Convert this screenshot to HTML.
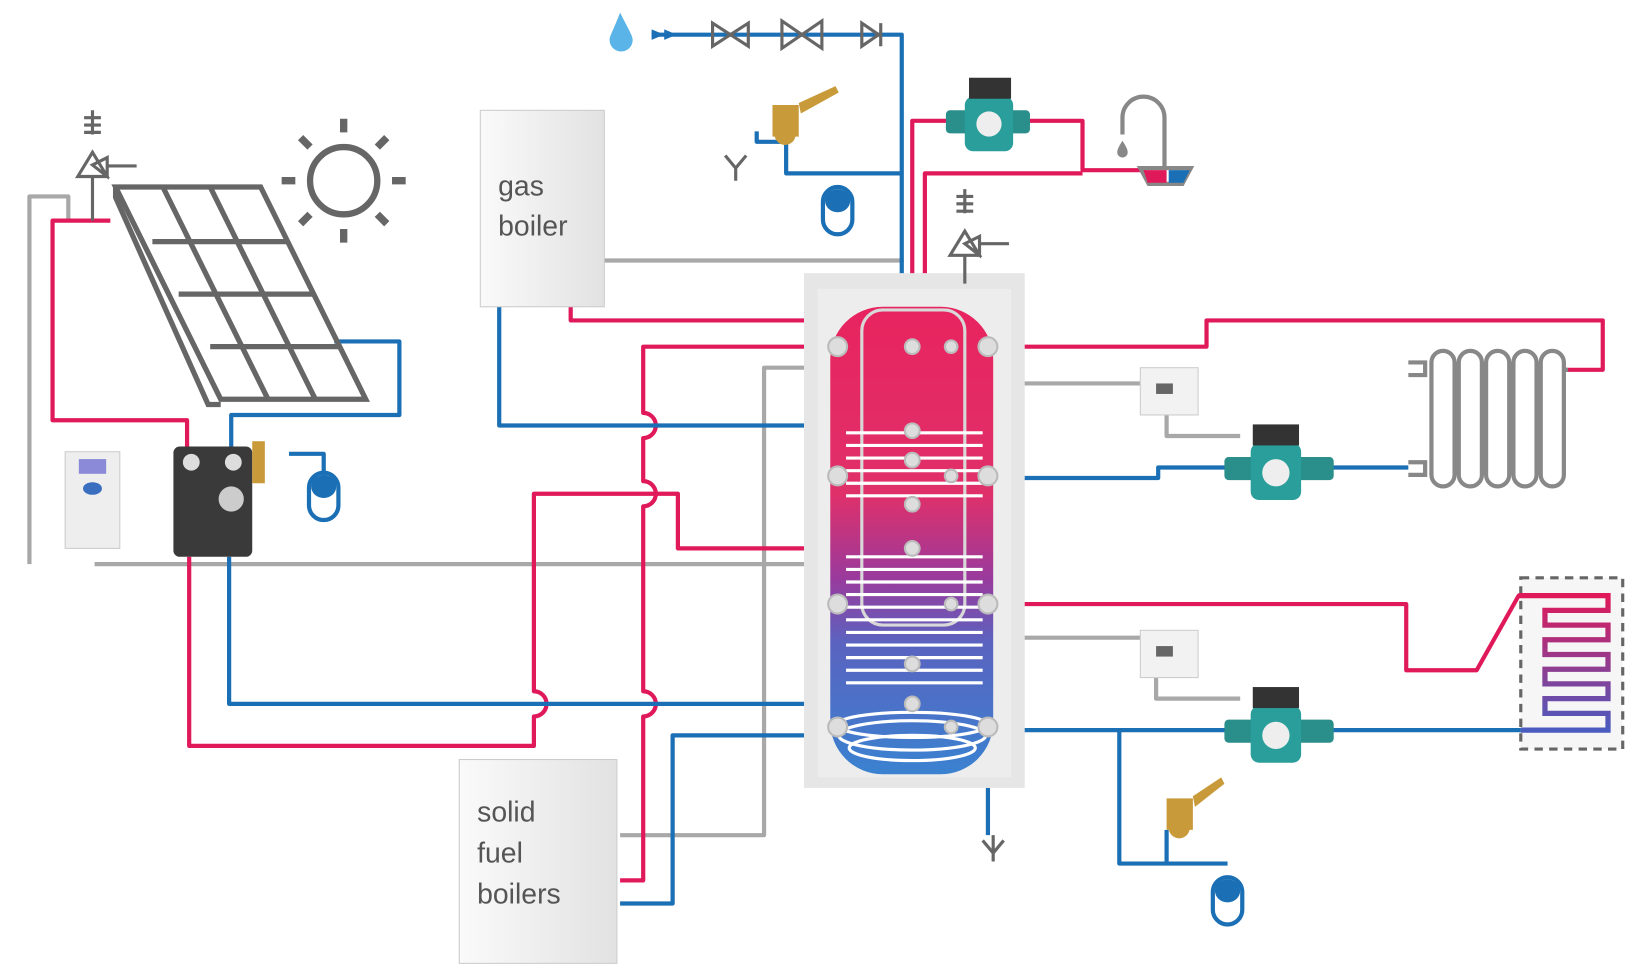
<!DOCTYPE html>
<html><head><meta charset="utf-8"><style>
html,body{margin:0;padding:0;background:#fff;width:1649px;height:977px;overflow:hidden}
svg{display:block}
text{font-family:"Liberation Sans",sans-serif;fill:#555}
</style></head><body>
<svg width="1649" height="977" viewBox="0 0 1569 930" preserveAspectRatio="none" xmlns="http://www.w3.org/2000/svg">
<defs>
<linearGradient id="tk" x1="0" y1="0" x2="0" y2="1">
<stop offset="0" stop-color="#e8245f"/><stop offset="0.4" stop-color="#e0306a"/>
<stop offset="0.58" stop-color="#9a3a9c"/><stop offset="0.72" stop-color="#5a63c0"/><stop offset="1" stop-color="#3a82d0"/>
</linearGradient>
<linearGradient id="bx" x1="0" y1="0" x2="1" y2="0">
<stop offset="0" stop-color="#fafafa"/><stop offset="1" stop-color="#e2e2e2"/>
</linearGradient>
<linearGradient id="fl" x1="0" y1="0" x2="0" y2="1">
<stop offset="0" stop-color="#e0195a"/><stop offset="1" stop-color="#4a5cc0"/>
</linearGradient>
</defs>
<g fill="none" stroke-width="4" stroke-linejoin="round">
<g stroke="#a8a8a8">
<path d="M28,537 V187 H65 V210"/>
<path d="M90,537 H865"/>
<path d="M575,248 H860"/>
<path d="M590,795 H727 V350 H870"/>
<path d="M905,330 L945,365 H1085"/>
<path d="M1110,395 V415 H1180"/>
<path d="M905,575 L945,607 H1085"/>
<path d="M1100,645 V665 H1180"/>
</g>
<g stroke="#e0195a">
<path d="M105,210 H50 V400 H178 V425"/>
<path d="M180,530 V710 H508 V682 A12,12 0 0 0 508,658 V470 H645 V522 H868"/>
<path d="M543,292 V305 H800"/>
<path d="M590,838 H612 V682 A12,12 0 0 0 612,658 V482 A12,12 0 0 0 612,458 V417 A12,12 0 0 0 612,393 V330 H797"/>
<path d="M868,290 V115 H905"/>
<path d="M975,115 H1030 V162 H1090"/>
<path d="M880,290 V165 H1030"/>
<path d="M940,330 H1148 V305 H1525 V352 H1490"/>
<path d="M940,575 H1338 V638 H1405 L1445,567 H1530"/>
</g>
<g stroke="#1a6fb5">
<path d="M620,33 H858 V290"/>
<path d="M720,125 V135 H748 V165 H858"/>
<path d="M318,325 H380 V395 H220 V425"/>
<path d="M275,432 H308 V450"/>
<path d="M218,530 V670 H858"/>
<path d="M475,292 V405 H805"/>
<path d="M590,860 H640 V700 H797"/>
<path d="M940,455 H1102 V445 H1340"/>
<path d="M940,695 H1530"/>
<path d="M1065,695 V822 H1168"/>
<path d="M1110,790 V822"/>
<path d="M940,750 V795"/>
</g>
</g>
<!-- tank -->
<rect x="765" y="260" width="210" height="490" fill="#e6e6e6"/>
<rect x="778" y="275" width="184" height="465" fill="#ededed"/>
<rect x="790" y="292" width="155" height="445" rx="50" fill="url(#tk)"/>
<rect x="820" y="295" width="98" height="300" rx="20" fill="none" stroke="#d8d8d8" stroke-width="3"/>
<g fill="none" stroke="#fff" stroke-width="3">
<path d="M805,412 H935 M805,424 H935 M805,436 H935 M805,448 H935 M805,460 H935 M805,472 H935"/>
<path d="M805,530 H935 M805,542 H935 M805,554 H935 M805,566 H935 M805,578 H935 M805,590 H935 M805,602 H935 M805,614 H935 M805,626 H935 M805,638 H935 M805,650 H935"/>
<ellipse cx="868" cy="690" rx="72" ry="12"/><ellipse cx="868" cy="700" rx="70" ry="14"/><ellipse cx="868" cy="712" rx="60" ry="12"/>
</g>
<g fill="#ddd" stroke="#bbb" stroke-width="2">
<circle cx="797" cy="330" r="9"/><circle cx="797" cy="453" r="9"/><circle cx="797" cy="575" r="9"/><circle cx="797" cy="692" r="9"/>
<circle cx="940" cy="330" r="9"/><circle cx="940" cy="453" r="9"/><circle cx="940" cy="575" r="9"/><circle cx="940" cy="692" r="9"/>
<circle cx="868" cy="330" r="7"/><circle cx="868" cy="410" r="7"/><circle cx="868" cy="438" r="7"/><circle cx="868" cy="480" r="7"/><circle cx="868" cy="522" r="7"/><circle cx="868" cy="632" r="7"/><circle cx="868" cy="670" r="7"/><circle cx="905" cy="330" r="6"/><circle cx="905" cy="453" r="6"/><circle cx="905" cy="575" r="6"/><circle cx="905" cy="692" r="6"/>
</g>
<rect x="457" y="105" width="118" height="187" fill="url(#bx)" stroke="#ccc"/>
<text x="474" y="186" font-size="27">gas</text>
<text x="474" y="224" font-size="27">boiler</text>
<rect x="437" y="723" width="150" height="194" fill="url(#bx)" stroke="#ccc"/>
<text x="454" y="782" font-size="27">solid</text>
<text x="454" y="821" font-size="27">fuel</text>
<text x="454" y="860" font-size="27">boilers</text>
<g fill="none" stroke="#666" stroke-width="5">
<path d="M110,178 H248 L348,380 H210 Z"/>
<path d="M110,178 V188 L198,385 H210"/>
<path d="M155,178 L255,380 M200,178 L300,380"/>
<path d="M145,230 H273 M170,280 H298 M200,330 H323"/>
<circle cx="327" cy="172" r="32" stroke-width="6"/>
<path d="M327,113 v13 M327,218 v13 M268,172 h13 M373,172 h13 M286,131 l9,9 M359,204 l9,9 M368,131 l-9,9 M295,204 l-9,9" stroke-width="7"/>
</g>
<g fill="none" stroke="#666" stroke-width="3">
<path d="M88,105 V128 M80,112 h16 M80,119 h16 M80,126 h16 M88,168 V210 M74,168 h28 L88,145 Z M102,150 V168 L88,157 Z M102,158 h28"/>
<path d="M918,180 V203 M910,187 h16 M910,194 h16 M910,201 h16 M918,243 V270 M904,243 h28 L918,220 Z M932,225 V243 L918,232 Z M932,232 h28"/>
<path d="M700,160 V172 M690,148 L700,160 L710,148"/>
<path d="M945,795 V820 M935,800 L945,812 L955,800"/>
</g>
<path d="M590,12 C598,28 602,34 602,38 A11,11 0 0 1 580,38 C580,34 584,28 590,12 Z" fill="#5ab4e8"/>
<g fill="none" stroke="#666" stroke-width="3">
<path d="M678,22 V44 L712,22 V44 Z"/><path d="M744,20 V46 L782,20 V46 Z"/><path d="M820,22 V44 L836,33 Z M838,22 V44"/>
</g>
<path d="M620,28 L632,33 L620,38 Z M632,28 L644,33 L632,38Z" fill="#1a6fb5"/>
<g fill="#fff" stroke="#1a6fb5" stroke-width="4">
<rect x="783" y="178" width="28" height="45" rx="14"/><rect x="294" y="450" width="28" height="45" rx="14"/><rect x="1154" y="835" width="28" height="45" rx="14"/>
</g>
<g fill="#1a6fb5"><rect x="785" y="180" width="24" height="22" rx="12"/><rect x="296" y="452" width="24" height="22" rx="12"/><rect x="1156" y="837" width="24" height="22" rx="12"/></g>
<g fill="#c89a3a"><path d="M735,100 h25 v30 h-25z"/><path d="M760,98 L795,82 l3,6 L762,108z"/><circle cx="747" cy="128" r="10"/>
<path d="M1110,760 h25 v30 h-25z"/><path d="M1135,758 L1162,740 l3,6 L1137,768z"/><circle cx="1122" cy="788" r="10"/></g>
<g>
<rect x="900" y="105" width="80" height="22" rx="4" fill="#2a8e8a"/><rect x="918" y="92" width="46" height="52" rx="8" fill="#2a9e9a"/><rect x="922" y="74" width="40" height="20" fill="#333"/><circle cx="941" cy="118" r="12" fill="#eee"/>
<rect x="1165" y="435" width="104" height="22" rx="4" fill="#2a8e8a"/><rect x="1190" y="422" width="48" height="54" rx="8" fill="#2a9e9a"/><rect x="1192" y="404" width="44" height="20" fill="#333"/><circle cx="1214" cy="450" r="13" fill="#eee"/>
<rect x="1165" y="685" width="104" height="22" rx="4" fill="#2a8e8a"/><rect x="1190" y="672" width="48" height="54" rx="8" fill="#2a9e9a"/><rect x="1192" y="654" width="44" height="20" fill="#333"/><circle cx="1214" cy="700" r="13" fill="#eee"/>
</g>
<g fill="none" stroke="#888" stroke-width="4"><path d="M1068,128 V112 A20,20 0 0 1 1108,112 V160"/><path d="M1085,160 h48 l-8,15 h-32z"/></g>
<path d="M1088,162 h22 v12 h-18z" fill="#e0195a"/><path d="M1112,162 h20 l-6,12 h-14z" fill="#1a6fb5"/>
<path d="M1068,134 c4,6 5,9 5,11 a5,5 0 0 1 -10,0 c0,-2 1,-5 5,-11z" fill="#888"/>
<rect x="1085" y="350" width="55" height="45" fill="#f2f2f2" stroke="#ccc"/><rect x="1100" y="365" width="16" height="10" fill="#666"/>
<rect x="1085" y="600" width="55" height="45" fill="#f2f2f2" stroke="#ccc"/><rect x="1100" y="615" width="16" height="10" fill="#666"/>
<rect x="62" y="430" width="52" height="92" fill="#eee" stroke="#ccc"/><rect x="75" y="437" width="26" height="14" fill="#8a8ad8"/><ellipse cx="88" cy="465" rx="9" ry="6" fill="#3a6fc0"/>
<rect x="165" y="425" width="75" height="105" rx="6" fill="#3a3a3a"/><circle cx="182" cy="440" r="8" fill="#ddd"/><circle cx="222" cy="440" r="8" fill="#ddd"/><circle cx="220" cy="475" r="12" fill="#ccc"/>
<rect x="240" y="420" width="12" height="40" fill="#c89a3a"/>
<g fill="none" stroke="#888" stroke-width="4">
<path d="M1362,345 a11,11 0 0 1 22,0 V452 a11,11 0 0 1 -22,0 Z M1388,345 a11,11 0 0 1 22,0 V452 a11,11 0 0 1 -22,0 Z M1414,345 a11,11 0 0 1 22,0 V452 a11,11 0 0 1 -22,0 Z M1440,345 a11,11 0 0 1 22,0 V452 a11,11 0 0 1 -22,0 Z M1466,345 a11,11 0 0 1 22,0 V452 a11,11 0 0 1 -22,0 Z"/>
<path d="M1340,345 h16 v12 h-16 M1340,440 h16 v12 h-16 M1488,352 h4"/>
</g>
<rect x="1447" y="550" width="97" height="163" fill="#f0f0f2" fill-opacity="0.6" stroke="#666" stroke-width="3" stroke-dasharray="8,6"/>
<path d="M1445,567 H1530 V581 H1470 V595 H1530 V609 H1470 V623 H1530 V637 H1470 V651 H1530 V665 H1470 V679 H1530 V695 H1447" fill="none" stroke="url(#fl)" stroke-width="5"/>
</svg>
</body></html>
